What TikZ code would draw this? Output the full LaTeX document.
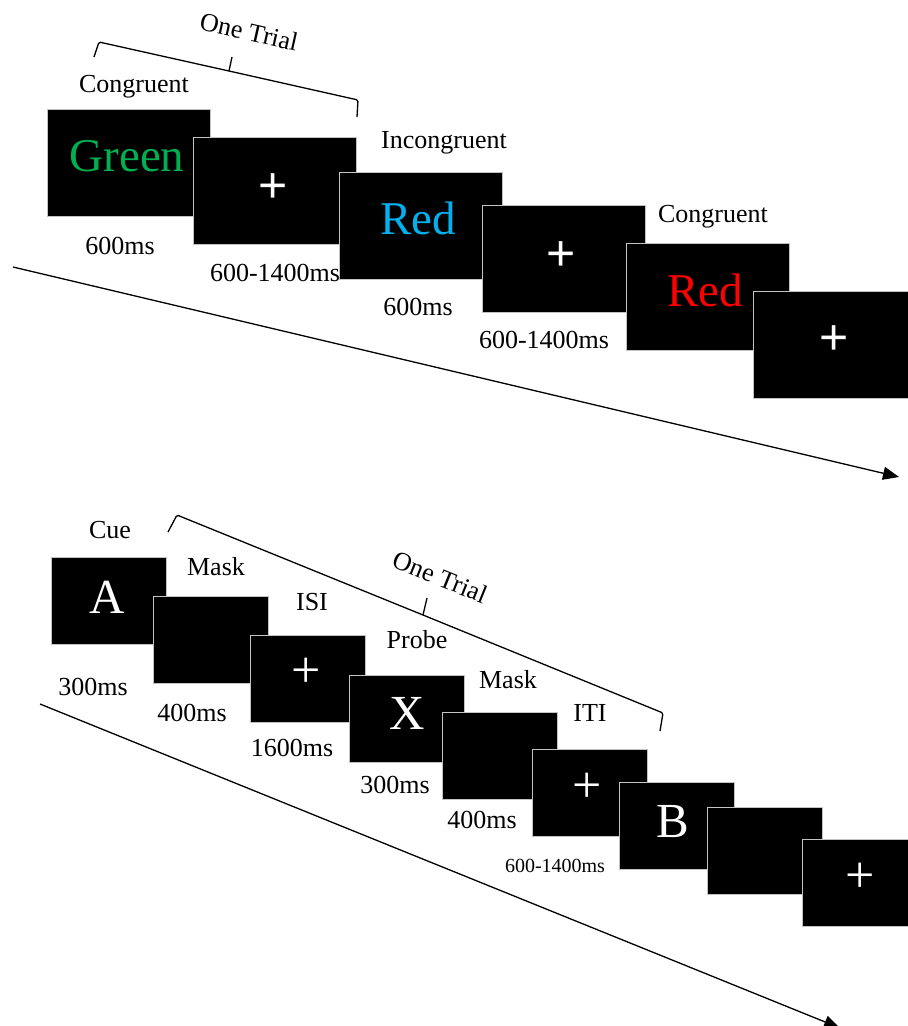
\documentclass[tikz,border=0pt]{standalone}
\usepackage{fontspec}
\setmainfont{Liberation Serif}
\newfontfamily\sansplus{Liberation Sans}
\usetikzlibrary{arrows.meta}
\definecolor{wgreen}{RGB}{0,176,80}
\definecolor{wblue}{RGB}{0,176,240}
\definecolor{wred}{RGB}{255,0,0}
\definecolor{edgegray}{RGB}{195,195,195}
\begin{document}
\begin{tikzpicture}[x=1pt,y=-1pt,
  bigbox/.style={draw=edgegray, line width=0.8pt, fill=black, minimum width=163pt, minimum height=107pt, inner sep=0pt},
  smallbox/.style={draw=edgegray, line width=0.8pt, fill=black, minimum width=115pt, minimum height=87pt, inner sep=0pt},
  lbl/.style={inner sep=0pt, font=\fontsize{26}{30}\selectfont},
  smalllbl/.style={inner sep=0pt, font=\fontsize{20}{24}\selectfont},
  word/.style={inner sep=0pt, font=\fontsize{47}{52}\selectfont},
  letter/.style={inner sep=0pt, text=white, font=\fontsize{49}{54}\selectfont},
  plusA/.style={inner sep=0pt, text=white, font=\sansplus\fontsize{50}{56}\selectfont},
  plusB/.style={inner sep=0pt, text=white, font=\fontsize{52}{56}\selectfont},
  bline/.style={line width=1.3pt, rounded corners=1.5pt},
  arr/.style={line width=1.3pt, -{Triangle[length=16pt,width=13pt]}}
]
\useasboundingbox (0,0) rectangle (908,1026);

% ---------- top sequence ----------
\coordinate (ta0) at (13,267);
\coordinate (ta1) at (899,477);
\draw[arr] (ta0) -- (ta1);

\node[bigbox] (t1) at (129,162.5) {};
\node[word, text=wgreen] (t1w) at (127,156) {Green};
\node[bigbox] (t2) at (274.5,191) {};
\node[plusA] (t2p) at (273,188) {+};
\node[bigbox] (t3) at (420.5,225.5) {};
\node[word, text=wblue] (t3w) at (418,218) {Red};
\node[bigbox] (t4) at (564,258.5) {};
\node[plusA] (t4p) at (561,256) {+};
\node[bigbox] (t5) at (708,296.5) {};
\node[word, text=wred] (t5w) at (705,290) {Red};
\node[bigbox] (t6) at (834.5,344.5) {};
\node[plusA] (t6p) at (834,340) {+};

\node[lbl] (tl1) at (134,87) {Congruent};
\node[lbl] (tl2) at (444,143) {Incongruent};
\node[lbl] (tl3) at (713,217) {Congruent};
\node[lbl] (td1) at (120,246) {600ms};
\node[lbl] (td2) at (275,273) {600-1400ms};
\node[lbl] (td3) at (418,307) {600ms};
\node[lbl] (td4) at (544,340) {600-1400ms};

% top brace
\coordinate (tb1) at (94,57);
\coordinate (tb2) at (99,42);
\coordinate (tbm) at (229,71);
\coordinate (tbt) at (232,57);
\coordinate (tb3) at (358,100);
\coordinate (tb4) at (357,117);
\draw[bline] (tb1) -- (tb2) -- (tbm) -- (tb3) -- (tb4);
\draw[bline] (tbm) -- (tbt);
\node[lbl, rotate=-12.6] (ttrial) at (249,32) {One Trial};

% ---------- bottom sequence ----------
\coordinate (ba0) at (40,704);
\coordinate (ba1) at (840,1028);
\draw[arr] (ba0) -- (ba1);

\node[smallbox] (s1) at (109,600.5) {};
\node[letter] (s1l) at (107,597) {A};
\node[smallbox] (s2) at (210.5,639.5) {};
\node[smallbox] (s3) at (308,678.5) {};
\node[plusB] (s3p) at (306,673) {+};
\node[smallbox] (s4) at (406.5,718.5) {};
\node[letter] (s4l) at (407,713) {X};
\node[smallbox] (s5) at (499.5,756) {};
\node[smallbox] (s6) at (589.5,793) {};
\node[plusB] (s6p) at (587,788) {+};
\node[smallbox] (s7) at (677,826) {};
\node[letter] (s7l) at (673,822) {B};
\node[smallbox] (s8) at (764.5,850.5) {};
\node[smallbox] (s9) at (859.5,883) {};
\node[plusB] (s9p) at (860,878) {+};

\node[lbl] (bl1) at (110,530) {Cue};
\node[lbl] (bl2) at (216,567) {Mask};
\node[lbl] (bl3) at (312,602) {ISI};
\node[lbl] (bl4) at (417,640) {Probe};
\node[lbl] (bl5) at (508,680) {Mask};
\node[lbl] (bl6) at (590,713) {ITI};
\node[lbl] (bd1) at (93,687) {300ms};
\node[lbl] (bd2) at (192,713) {400ms};
\node[lbl] (bd3) at (292,748) {1600ms};
\node[lbl] (bd4) at (395,785) {300ms};
\node[lbl] (bd5) at (482,820) {400ms};
\node[smalllbl] (bd6) at (555,866) {600-1400ms};

% bottom brace
\coordinate (bb1) at (168,532);
\coordinate (bb2) at (177,515);
\coordinate (bbm) at (423,615);
\coordinate (bbt) at (427,598);
\coordinate (bb3) at (663,713);
\coordinate (bb4) at (660,731);
\draw[bline] (bb1) -- (bb2) -- (bbm) -- (bb3) -- (bb4);
\draw[bline] (bbm) -- (bbt);
\node[lbl, rotate=-22] (btrial) at (440,577) {One Trial};
\end{tikzpicture}
\end{document}
